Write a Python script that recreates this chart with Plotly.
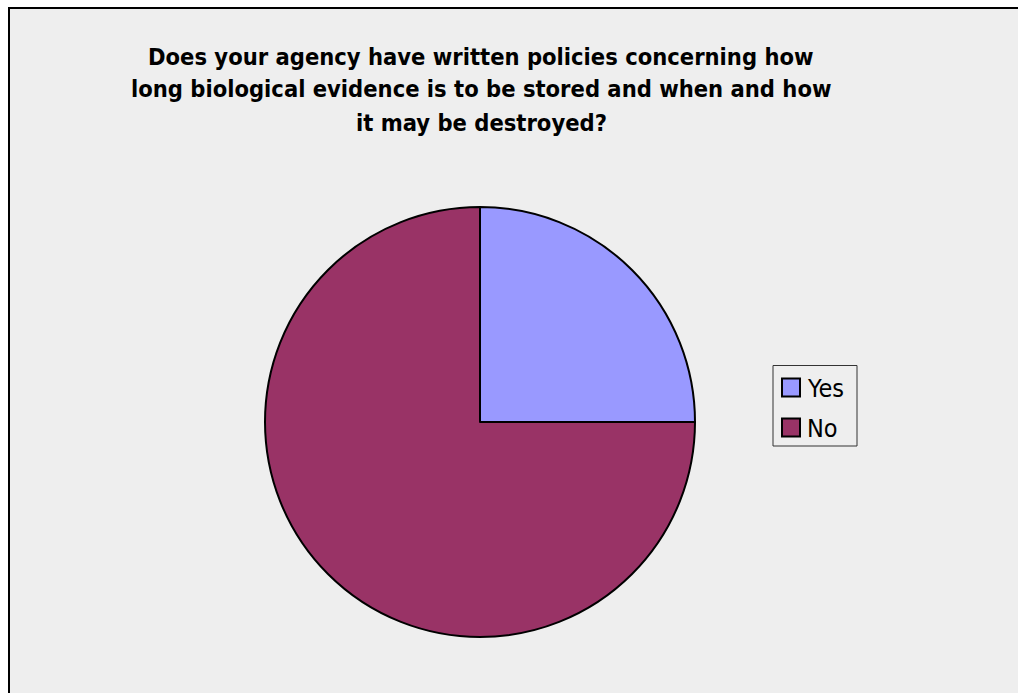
import plotly.graph_objects as go

labels = ["Yes", "No"]
values = [25, 75]
colors = ["#9999FF", "#993366"]
title_lines = [
    "Does your agency have written policies concerning how",
    "long biological evidence is to be stored and when and how",
    "it may be destroyed?",
]

W, H = 1018, 693

def px(x):
    return x / W

def py(y):
    return 1 - y / H

fig = go.Figure(go.Pie(
    labels=labels, values=values, sort=False, direction="clockwise", rotation=0,
    marker=dict(colors=colors, line=dict(color="black", width=2)),
    textinfo="none", hoverinfo="label+percent", showlegend=False,
    domain=dict(x=[px(265), px(695)], y=[py(637), py(207)]),
))

# chart area fill, with border on the visible left and top edges
fig.add_shape(type="rect", xref="paper", yref="paper", x0=px(9), x1=1.0, y0=0.0, y1=py(8),
              line=dict(width=0), fillcolor="#EEEEEE", layer="below")
fig.add_shape(type="line", xref="paper", yref="paper", x0=px(9), x1=px(9), y0=0.0, y1=py(7),
              line=dict(color="black", width=2))
fig.add_shape(type="line", xref="paper", yref="paper", x0=px(8), x1=1.0, y0=py(8), y1=py(8),
              line=dict(color="black", width=2))

for i, line in enumerate(title_lines):
    fig.add_annotation(text="<b>" + line + "</b>", xref="paper", yref="paper",
                       x=px(481), y=py(56.5 + 33 * i), xanchor="center", yanchor="middle",
                       showarrow=False,
                       font=dict(family="DejaVu Sans Condensed", size=23.5, color="black"))

# legend
fig.add_shape(type="rect", xref="paper", yref="paper", x0=px(773), x1=px(857), y0=py(446), y1=py(365.5),
              line=dict(color="#333333", width=1), fillcolor="#EEEEEE")
item_y = [387.5, 427.5]
for lab, col, yy in zip(labels, colors, item_y):
    fig.add_shape(type="rect", xref="paper", yref="paper", x0=px(782), x1=px(800),
                  y0=py(yy + 9), y1=py(yy - 9), line=dict(color="black", width=2), fillcolor=col)
    fig.add_annotation(text=lab, xref="paper", yref="paper", x=px(805), y=py(yy + 1),
                       xanchor="left", yanchor="middle", showarrow=False,
                       font=dict(family="DejaVu Sans Condensed", size=25, color="black"))

fig.update_layout(
    width=W, height=H, margin=dict(l=0, r=0, t=0, b=0),
    paper_bgcolor="white", plot_bgcolor="white",
)

fig.write_html("out.html", config={"displayModeBar": False},
               post_script=("document.body.style.margin='0';"
                            "document.body.style.overflow='hidden';"
                            "document.documentElement.style.overflow='hidden';"
                            "document.documentElement.style.background='#EEEEEE';"))
